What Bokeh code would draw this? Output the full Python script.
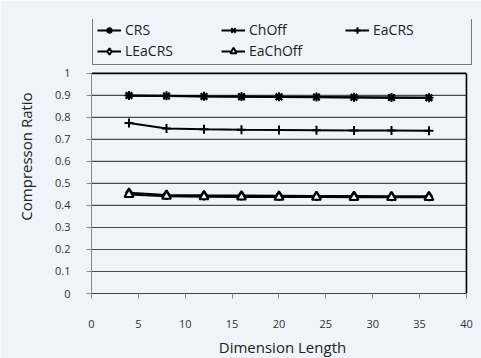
from bokeh.plotting import figure
from bokeh.models import Legend, LegendItem, FixedTicker
from bokeh.embed import file_html
from bokeh.resources import INLINE

# Dimension length on the x axis
dims = [4, 8, 12, 16, 20, 24, 28, 32, 36]

# Compression ratio for each method
crs = [0.900, 0.898, 0.896, 0.895, 0.894, 0.893, 0.892, 0.891, 0.890]
choff = [0.899, 0.897, 0.895, 0.894, 0.893, 0.892, 0.891, 0.890, 0.889]
eacrs = [0.775, 0.750, 0.746, 0.744, 0.743, 0.742, 0.741, 0.741, 0.740]
leacrs = [0.458, 0.448, 0.446, 0.445, 0.444, 0.443, 0.443, 0.442, 0.442]
eachoff = [0.450, 0.442, 0.440, 0.439, 0.438, 0.438, 0.437, 0.437, 0.437]

x_ticks = [0, 5, 10, 15, 20, 25, 30, 35, 40]
y_ticks = [0, 0.1, 0.2, 0.3, 0.4, 0.5, 0.6, 0.7, 0.8, 0.9, 1]

BG = "#eef4f9"
FONT = "Open Sans"

x_lo, x_hi = x_ticks[0], x_ticks[-1]
y_lo, y_hi = y_ticks[0], y_ticks[-1]

# The frame reaches above and to the right of the value box so the legend
# can sit inside it; the box itself is drawn from the axis limits.
p = figure(
    width=481, height=358,
    frame_width=382, frame_height=274,
    min_border_left=91, min_border_right=8,
    min_border_top=19, min_border_bottom=65,
    x_range=(0, 40.75), y_range=(0, 1.245),
    output_backend="svg", toolbar_location=None,
    background_fill_color=BG, border_fill_color=BG,
)
p.outline_line_color = None
p.grid.visible = False

# horizontal grid lines across the value box
inner = y_ticks[1:-1]
p.segment(x0=[x_lo] * len(inner), x1=[x_hi] * len(inner), y0=inner, y1=inner,
          line_color="#4a4a4a", line_width=1.2)
# box top and right edge
p.segment(x0=[x_lo, x_hi], x1=[x_hi, x_hi], y0=[y_hi, y_lo], y1=[y_hi, y_hi],
          line_color="black", line_width=1.6)

p.xaxis.ticker = FixedTicker(ticks=x_ticks)
p.yaxis.ticker = FixedTicker(ticks=y_ticks)
p.yaxis.major_label_overrides = {0: "0", 1: "1"}
p.xaxis.bounds = (x_lo, x_hi)
p.yaxis.bounds = (y_lo, y_hi)

for ax in (p.xaxis[0], p.yaxis[0]):
    ax.axis_line_color = "#888888"
    ax.major_tick_line_color = "#888888"
    ax.major_tick_in = 0
    ax.major_tick_out = 5
    ax.minor_tick_line_color = None
    ax.major_label_text_font = FONT
    ax.major_label_text_font_size = "11px"
    ax.major_label_text_color = "#333333"
    ax.axis_label_text_font = FONT
    ax.axis_label_text_font_size = "15px"
    ax.axis_label_text_font_style = "normal"
    ax.axis_label_text_color = "#222222"

p.xaxis.axis_line_color = "#444444"
p.xaxis.major_label_standoff = 21
p.yaxis.major_label_standoff = 16
p.xaxis.axis_label = "Dimension Length"
p.yaxis.axis_label = "Compresson Ratio"
p.xaxis.axis_label_standoff = 6
p.yaxis.axis_label_standoff = 16

series = [
    ("CRS", crs, "asterisk"),
    ("ChOff", choff, "x"),
    ("EaCRS", eacrs, "cross"),
    ("LEaCRS", leacrs, "diamond"),
    ("EaChOff", eachoff, "triangle"),
]

items = []
for name, ys, marker in series:
    ln = p.line(dims, ys, line_color="black", line_width=2)
    mk = p.scatter(dims, ys, marker=marker, size=9, line_color="black",
                   line_width=2, fill_color=BG)
    items.append(LegendItem(label=name, renderers=[ln, mk]))

legend = Legend(
    items=items,
    location=(1, 228),
    orientation="horizontal",
    ncols=3,
    glyph_width=24, glyph_height=16,
    label_width=94, label_height=16,
    label_standoff=4,
    spacing=2, padding=4, margin=0,
    label_text_font=FONT, label_text_font_size="14px",
    label_text_color="#222222",
    border_line_color="black", border_line_width=1.5,
    background_fill_color=BG, background_fill_alpha=1,
)
p.add_layout(legend, "center")

open("out.html", "w").write(file_html(p, INLINE))
